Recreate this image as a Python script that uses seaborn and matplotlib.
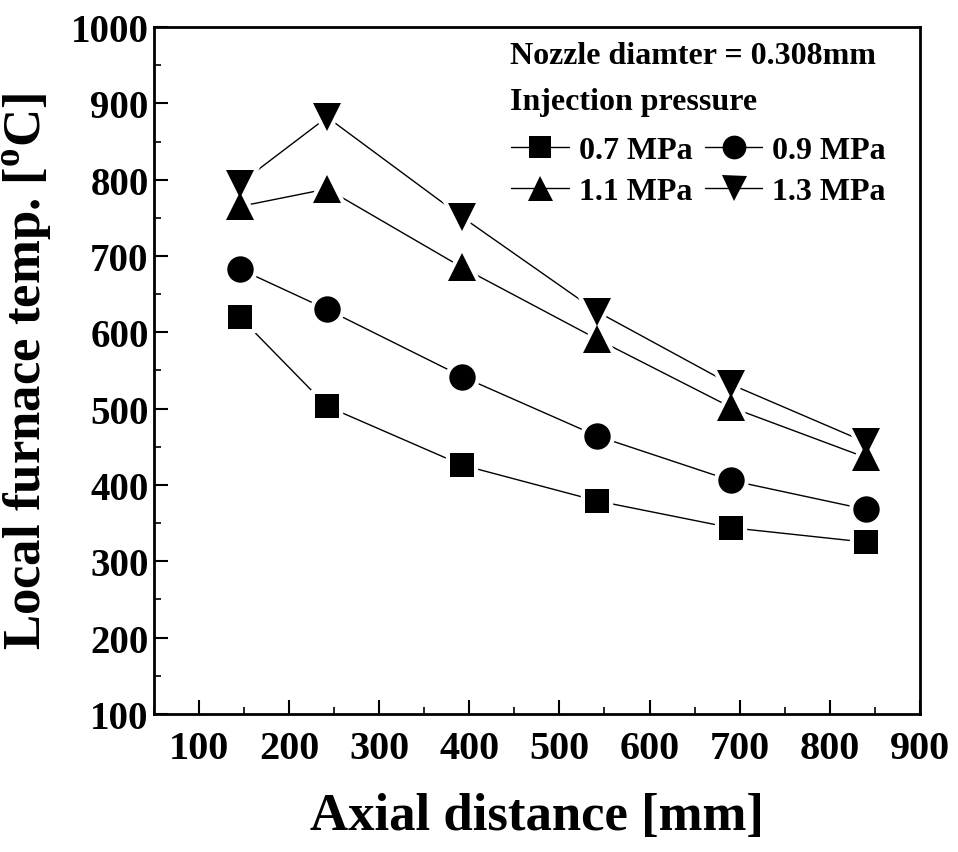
import numpy as np
import pandas as pd
import matplotlib
matplotlib.use('Agg')
import matplotlib.pyplot as plt
from matplotlib.lines import Line2D
from matplotlib.ticker import MultipleLocator
import seaborn as sns

# === data ===
distance = [145, 242, 392, 542, 690, 840]
temp_07 = [620, 503, 426, 379, 344, 325]
temp_09 = [683, 630, 542, 464, 406, 368]
temp_11 = [765, 788, 685, 591, 502, 436]
temp_13 = [795, 882, 751, 627, 532, 456]

series_labels = ['0.7 MPa', '0.9 MPa', '1.1 MPa', '1.3 MPa']
series_markers = ['s', 'o', '^', 'v']

df = pd.DataFrame({
    'distance': distance * 4,
    'temp': temp_07 + temp_09 + temp_11 + temp_13,
    'pressure': np.repeat(series_labels, len(distance)),
})

sns.set_style('ticks')
plt.rcParams['font.family'] = ['Liberation Serif', 'DejaVu Serif']
plt.rcParams['font.weight'] = 'bold'
plt.rcParams['mathtext.fontset'] = 'custom'
plt.rcParams['mathtext.rm'] = 'Liberation Serif:bold'
plt.rcParams['mathtext.bf'] = 'Liberation Serif:bold'
# pure black everywhere (seaborn defaults to dark grey)
for k in ['text.color', 'axes.labelcolor', 'xtick.color', 'ytick.color', 'axes.edgecolor']:
    plt.rcParams[k] = 'black'

fig = plt.figure(figsize=(9.58, 8.53), dpi=100)
ax = fig.add_axes([0.161, 0.162, 0.799, 0.805])

msize = {'s': 17, 'o': 19, '^': 20, 'v': 20}

for lbl, mk in zip(series_labels, series_markers):
    sub = df[df['pressure'] == lbl]
    # thin connecting line
    sns.lineplot(data=sub, x='distance', y='temp', ax=ax, color='black',
                 linewidth=1.0, legend=False, zorder=2)
    # white halo so the line stops short of the symbol
    ax.plot(sub['distance'], sub['temp'], linestyle='none', marker=mk,
            markersize=msize[mk], markerfacecolor='white',
            markeredgecolor='white', markeredgewidth=6, zorder=3)
for lbl, mk in zip(series_labels, series_markers):
    sub = df[df['pressure'] == lbl]
    ax.plot(sub['distance'], sub['temp'], linestyle='none', marker=mk,
            markersize=msize[mk], markerfacecolor='black',
            markeredgecolor='black', markeredgewidth=0, zorder=4)

ax.set_xlim(50, 900)
ax.set_ylim(100, 1000)
ax.xaxis.set_major_locator(MultipleLocator(100))
ax.xaxis.set_minor_locator(MultipleLocator(50))
ax.yaxis.set_major_locator(MultipleLocator(100))
ax.yaxis.set_minor_locator(MultipleLocator(50))
ax.tick_params(axis='both', which='major', direction='in', length=10, width=1.5)
ax.tick_params(axis='both', which='minor', direction='in', length=5, width=1.2)
ax.tick_params(axis='x', labelsize=29, pad=12)
ax.tick_params(axis='y', labelsize=28, pad=4)
for s in ax.spines.values():
    s.set_linewidth(2)
    s.set_visible(True)

ax.set_xticks([100, 200, 300, 400, 500, 600, 700, 800, 900])
ax.set_xticklabels(['100', '200', '300', '400', '500', '600', '700', '800', '900'])

ax.set_xlabel('Axial distance [mm]', fontsize=38, fontweight='bold', labelpad=18)
ax.set_ylabel('Local furnace temp. [$^{\\rm o}$C]', fontsize=38, fontweight='bold', labelpad=12)

ax.text(0.465, 0.958, 'Nozzle diamter = 0.308mm', transform=ax.transAxes,
        fontsize=23, fontweight='bold', va='center', ha='left')
ax.text(0.465, 0.891, 'Injection pressure', transform=ax.transAxes,
        fontsize=23, fontweight='bold', va='center', ha='left')

handles = {lbl: Line2D([0], [0], color='black', linewidth=1.0, marker=mk,
                       markersize=msize[mk] * 0.9, markerfacecolor='black',
                       markeredgewidth=0)
           for lbl, mk in zip(series_labels, series_markers)}
# legend fills column-wise, so order for rows: 0.7 | 0.9 / 1.1 | 1.3
leg_order = ['0.7 MPa', '1.1 MPa', '0.9 MPa', '1.3 MPa']
leg = ax.legend([handles[l] for l in leg_order], leg_order, ncol=2, loc='upper left',
                bbox_to_anchor=(0.45, 0.86), frameon=False, numpoints=1,
                handlelength=1.8, handletextpad=0.3, columnspacing=0.4,
                labelspacing=0.35, borderaxespad=0,
                prop={'size': 23, 'weight': 'bold'})

fig.savefig('out.png', dpi=100)
